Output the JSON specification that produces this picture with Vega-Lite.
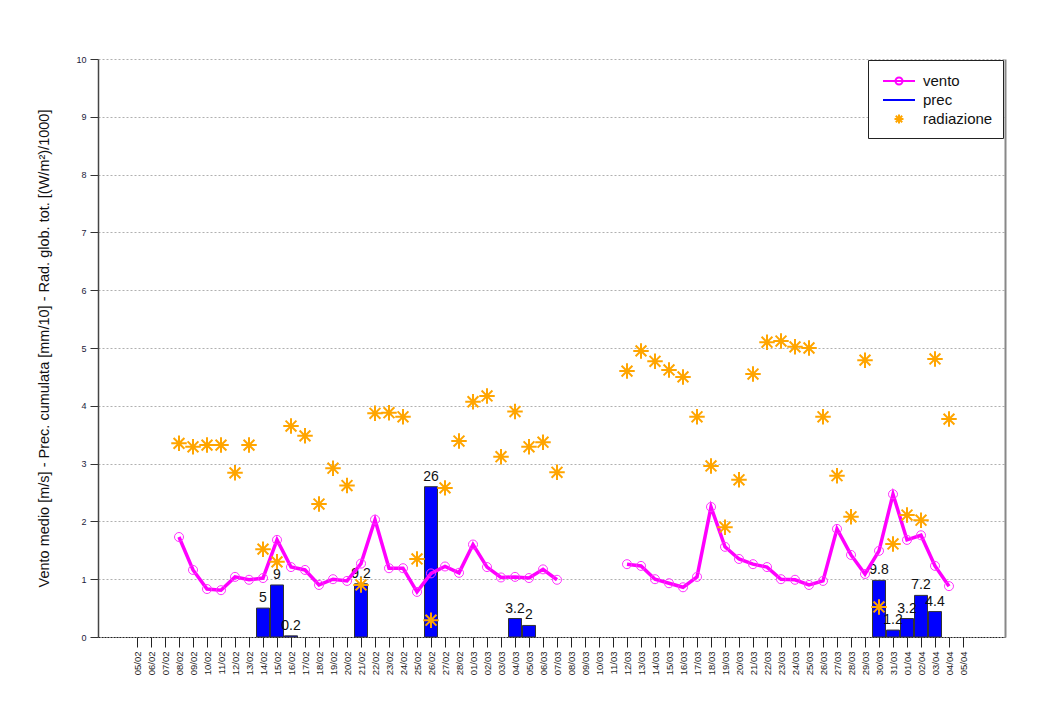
{
  "$schema": "https://vega.github.io/schema/vega-lite/v6.json",
  "width": 907,
  "height": 578,
  "autosize": {"type": "none"},
  "padding": {"left": 98, "top": 59, "right": 58, "bottom": 76},
  "background": "white",
  "config": {
    "view": {"stroke": null},
    "font": "Liberation Sans"
  },
  "data": {
    "values": [
      {"d": "2023-02-05", "vento": null, "rad": null, "prec": null, "lab": null},
      {"d": "2023-02-06", "vento": null, "rad": null, "prec": null, "lab": null},
      {"d": "2023-02-07", "vento": null, "rad": null, "prec": null, "lab": null},
      {"d": "2023-02-08", "vento": 1.73, "rad": 3.35, "prec": null, "lab": null},
      {"d": "2023-02-09", "vento": 1.16, "rad": 3.29, "prec": null, "lab": null},
      {"d": "2023-02-10", "vento": 0.83, "rad": 3.32, "prec": null, "lab": null},
      {"d": "2023-02-11", "vento": 0.81, "rad": 3.32, "prec": null, "lab": null},
      {"d": "2023-02-12", "vento": 1.04, "rad": 2.84, "prec": null, "lab": null},
      {"d": "2023-02-13", "vento": 0.99, "rad": 3.32, "prec": null, "lab": null},
      {"d": "2023-02-14", "vento": 1.02, "rad": 1.52, "prec": 0.5, "lab": "5"},
      {"d": "2023-02-15", "vento": 1.68, "rad": 1.30, "prec": 0.9, "lab": "9"},
      {"d": "2023-02-16", "vento": 1.21, "rad": 3.65, "prec": 0.02, "lab": "0.2"},
      {"d": "2023-02-17", "vento": 1.16, "rad": 3.48, "prec": null, "lab": null},
      {"d": "2023-02-18", "vento": 0.90, "rad": 2.30, "prec": null, "lab": null},
      {"d": "2023-02-19", "vento": 1.00, "rad": 2.92, "prec": null, "lab": null},
      {"d": "2023-02-20", "vento": 0.97, "rad": 2.62, "prec": null, "lab": null},
      {"d": "2023-02-21", "vento": 1.27, "rad": 0.90, "prec": 0.92, "lab": "9.2"},
      {"d": "2023-02-22", "vento": 2.03, "rad": 3.87, "prec": null, "lab": null},
      {"d": "2023-02-23", "vento": 1.19, "rad": 3.88, "prec": null, "lab": null},
      {"d": "2023-02-24", "vento": 1.19, "rad": 3.81, "prec": null, "lab": null},
      {"d": "2023-02-25", "vento": 0.78, "rad": 1.35, "prec": null, "lab": null},
      {"d": "2023-02-26", "vento": 1.10, "rad": 0.29, "prec": 2.6, "lab": "26"},
      {"d": "2023-02-27", "vento": 1.22, "rad": 2.58, "prec": null, "lab": null},
      {"d": "2023-02-28", "vento": 1.11, "rad": 3.39, "prec": null, "lab": null},
      {"d": "2023-03-01", "vento": 1.60, "rad": 4.07, "prec": null, "lab": null},
      {"d": "2023-03-02", "vento": 1.21, "rad": 4.17, "prec": null, "lab": null},
      {"d": "2023-03-03", "vento": 1.03, "rad": 3.12, "prec": null, "lab": null},
      {"d": "2023-03-04", "vento": 1.04, "rad": 3.90, "prec": 0.32, "lab": "3.2"},
      {"d": "2023-03-05", "vento": 1.02, "rad": 3.29, "prec": 0.2, "lab": "2"},
      {"d": "2023-03-06", "vento": 1.17, "rad": 3.37, "prec": null, "lab": null},
      {"d": "2023-03-07", "vento": 0.99, "rad": 2.85, "prec": null, "lab": null},
      {"d": "2023-03-08", "vento": null, "rad": null, "prec": null, "lab": null},
      {"d": "2023-03-09", "vento": null, "rad": null, "prec": null, "lab": null},
      {"d": "2023-03-10", "vento": null, "rad": null, "prec": null, "lab": null},
      {"d": "2023-03-11", "vento": null, "rad": null, "prec": null, "lab": null},
      {"d": "2023-03-12", "vento": 1.26, "rad": 4.60, "prec": null, "lab": null},
      {"d": "2023-03-13", "vento": 1.23, "rad": 4.95, "prec": null, "lab": null},
      {"d": "2023-03-14", "vento": 1.00, "rad": 4.77, "prec": null, "lab": null},
      {"d": "2023-03-15", "vento": 0.93, "rad": 4.62, "prec": null, "lab": null},
      {"d": "2023-03-16", "vento": 0.86, "rad": 4.50, "prec": null, "lab": null},
      {"d": "2023-03-17", "vento": 1.04, "rad": 3.81, "prec": null, "lab": null},
      {"d": "2023-03-18", "vento": 2.25, "rad": 2.96, "prec": null, "lab": null},
      {"d": "2023-03-19", "vento": 1.56, "rad": 1.90, "prec": null, "lab": null},
      {"d": "2023-03-20", "vento": 1.35, "rad": 2.72, "prec": null, "lab": null},
      {"d": "2023-03-21", "vento": 1.26, "rad": 4.55, "prec": null, "lab": null},
      {"d": "2023-03-22", "vento": 1.21, "rad": 5.10, "prec": null, "lab": null},
      {"d": "2023-03-23", "vento": 1.00, "rad": 5.12, "prec": null, "lab": null},
      {"d": "2023-03-24", "vento": 0.99, "rad": 5.02, "prec": null, "lab": null},
      {"d": "2023-03-25", "vento": 0.90, "rad": 5.00, "prec": null, "lab": null},
      {"d": "2023-03-26", "vento": 0.97, "rad": 3.81, "prec": null, "lab": null},
      {"d": "2023-03-27", "vento": 1.87, "rad": 2.79, "prec": null, "lab": null},
      {"d": "2023-03-28", "vento": 1.42, "rad": 2.08, "prec": null, "lab": null},
      {"d": "2023-03-29", "vento": 1.09, "rad": 4.79, "prec": null, "lab": null},
      {"d": "2023-03-30", "vento": 1.49, "rad": 0.52, "prec": 0.98, "lab": "9.8"},
      {"d": "2023-03-31", "vento": 2.47, "rad": 1.61, "prec": 0.12, "lab": "1.2"},
      {"d": "2023-04-01", "vento": 1.68, "rad": 2.11, "prec": 0.32, "lab": "3.2"},
      {"d": "2023-04-02", "vento": 1.76, "rad": 2.02, "prec": 0.72, "lab": "7.2"},
      {"d": "2023-04-03", "vento": 1.23, "rad": 4.81, "prec": 0.44, "lab": "4.4"},
      {"d": "2023-04-04", "vento": 0.88, "rad": 3.77, "prec": null, "lab": null},
      {"d": "2023-04-05", "vento": null, "rad": null, "prec": null, "lab": null}
    ]
  },
  "encoding": {
    "x": {
      "field": "d",
      "type": "temporal",
      "scale": {
        "type": "utc",
        "domain": [
          {"year": 2023, "month": 2, "date": 2, "hours": 5, "minutes": 8, "utc": true},
          {"year": 2023, "month": 4, "date": 8, "utc": true}
        ],
        "nice": false,
        "padding": 0
      },
      "axis": {
        "title": null,
        "format": "%d/%m",
        "values": [
          {"year": 2023, "month": 2, "date": 5, "utc": true},
          {"year": 2023, "month": 2, "date": 6, "utc": true},
          {"year": 2023, "month": 2, "date": 7, "utc": true},
          {"year": 2023, "month": 2, "date": 8, "utc": true},
          {"year": 2023, "month": 2, "date": 9, "utc": true},
          {"year": 2023, "month": 2, "date": 10, "utc": true},
          {"year": 2023, "month": 2, "date": 11, "utc": true},
          {"year": 2023, "month": 2, "date": 12, "utc": true},
          {"year": 2023, "month": 2, "date": 13, "utc": true},
          {"year": 2023, "month": 2, "date": 14, "utc": true},
          {"year": 2023, "month": 2, "date": 15, "utc": true},
          {"year": 2023, "month": 2, "date": 16, "utc": true},
          {"year": 2023, "month": 2, "date": 17, "utc": true},
          {"year": 2023, "month": 2, "date": 18, "utc": true},
          {"year": 2023, "month": 2, "date": 19, "utc": true},
          {"year": 2023, "month": 2, "date": 20, "utc": true},
          {"year": 2023, "month": 2, "date": 21, "utc": true},
          {"year": 2023, "month": 2, "date": 22, "utc": true},
          {"year": 2023, "month": 2, "date": 23, "utc": true},
          {"year": 2023, "month": 2, "date": 24, "utc": true},
          {"year": 2023, "month": 2, "date": 25, "utc": true},
          {"year": 2023, "month": 2, "date": 26, "utc": true},
          {"year": 2023, "month": 2, "date": 27, "utc": true},
          {"year": 2023, "month": 2, "date": 28, "utc": true},
          {"year": 2023, "month": 3, "date": 1, "utc": true},
          {"year": 2023, "month": 3, "date": 2, "utc": true},
          {"year": 2023, "month": 3, "date": 3, "utc": true},
          {"year": 2023, "month": 3, "date": 4, "utc": true},
          {"year": 2023, "month": 3, "date": 5, "utc": true},
          {"year": 2023, "month": 3, "date": 6, "utc": true},
          {"year": 2023, "month": 3, "date": 7, "utc": true},
          {"year": 2023, "month": 3, "date": 8, "utc": true},
          {"year": 2023, "month": 3, "date": 9, "utc": true},
          {"year": 2023, "month": 3, "date": 10, "utc": true},
          {"year": 2023, "month": 3, "date": 11, "utc": true},
          {"year": 2023, "month": 3, "date": 12, "utc": true},
          {"year": 2023, "month": 3, "date": 13, "utc": true},
          {"year": 2023, "month": 3, "date": 14, "utc": true},
          {"year": 2023, "month": 3, "date": 15, "utc": true},
          {"year": 2023, "month": 3, "date": 16, "utc": true},
          {"year": 2023, "month": 3, "date": 17, "utc": true},
          {"year": 2023, "month": 3, "date": 18, "utc": true},
          {"year": 2023, "month": 3, "date": 19, "utc": true},
          {"year": 2023, "month": 3, "date": 20, "utc": true},
          {"year": 2023, "month": 3, "date": 21, "utc": true},
          {"year": 2023, "month": 3, "date": 22, "utc": true},
          {"year": 2023, "month": 3, "date": 23, "utc": true},
          {"year": 2023, "month": 3, "date": 24, "utc": true},
          {"year": 2023, "month": 3, "date": 25, "utc": true},
          {"year": 2023, "month": 3, "date": 26, "utc": true},
          {"year": 2023, "month": 3, "date": 27, "utc": true},
          {"year": 2023, "month": 3, "date": 28, "utc": true},
          {"year": 2023, "month": 3, "date": 29, "utc": true},
          {"year": 2023, "month": 3, "date": 30, "utc": true},
          {"year": 2023, "month": 3, "date": 31, "utc": true},
          {"year": 2023, "month": 4, "date": 1, "utc": true},
          {"year": 2023, "month": 4, "date": 2, "utc": true},
          {"year": 2023, "month": 4, "date": 3, "utc": true},
          {"year": 2023, "month": 4, "date": 4, "utc": true},
          {"year": 2023, "month": 4, "date": 5, "utc": true}
        ],
        "labelAngle": 270,
        "labelFontSize": 9.5,
        "labelColor": "#222",
        "labelPadding": 4,
        "labelOverlap": false,
        "labelFlush": false,
        "tickSize": 10,
        "tickColor": "#222",
        "domainColor": "#222",
        "domainDash": [2, 1],
        "domainWidth": 1,
        "grid": false
      }
    }
  },
  "layer": [
    {
      "mark": {"type": "bar", "width": 13, "fill": "#0000FF", "stroke": "#333333", "strokeWidth": 1},
      "encoding": {
        "y": {
          "field": "prec",
          "type": "quantitative",
          "scale": {"domain": [0, 10], "nice": false},
          "axis": {
            "title": "Vento medio [m/s] - Prec. cumulata [mm/10] - Rad. glob. tot. [(W/m²)/1000]",
            "titleFontSize": 14.5,
            "titleFontWeight": "normal",
            "titleColor": "#111",
            "titlePadding": 24,
            "values": [0, 1, 2, 3, 4, 5, 6, 7, 8, 9, 10],
            "labelFontSize": 9,
            "labelColor": "#1a1a3a",
            "labelPadding": 4,
            "tickSize": 8,
            "tickColor": "#333",
            "domainColor": "#444",
            "domainWidth": 1.5,
            "grid": true,
            "gridDash": [2, 2],
            "gridColor": "#b0b0b0",
            "gridWidth": 1
          }
        }
      }
    },
    {
      "mark": {"type": "text", "baseline": "bottom", "dy": -3, "fontSize": 14, "color": "#111"},
      "encoding": {
        "y": {"field": "prec", "type": "quantitative", "axis": null},
        "text": {"field": "lab"}
      }
    },
    {
      "mark": {"type": "line", "color": "#FF00FF", "strokeWidth": 3.5, "invalid": "break-paths-show-domains"},
      "encoding": {
        "y": {
          "field": "vento",
          "type": "quantitative",
          "axis": {
            "orient": "right",
            "title": null,
            "labels": false,
            "ticks": false,
            "grid": false,
            "domainColor": "#888",
            "domainWidth": 2
          }
        }
      }
    },
    {
      "mark": {"type": "point", "shape": "circle", "filled": false, "stroke": "#FF33FF", "strokeWidth": 1, "size": 81, "opacity": 1},
      "encoding": {
        "y": {"field": "vento", "type": "quantitative", "axis": null}
      }
    },
    {
      "mark": {
        "type": "point",
        "shape": "M-1,0L1,0M0,-1L0,1M-0.7,-0.7L0.7,0.7M-0.7,0.7L0.7,-0.7",
        "filled": false,
        "stroke": "#FFA500",
        "strokeWidth": 2,
        "size": 240,
        "opacity": 1
      },
      "encoding": {
        "y": {"field": "rad", "type": "quantitative", "axis": null}
      }
    },
    {
      "data": {"values": [{"serie": "vento"}, {"serie": "prec"}, {"serie": "radiazione"}]},
      "mark": {"type": "point", "filled": false, "opacity": 0, "strokeWidth": 2},
      "encoding": {
        "x": null,
        "color": {
          "field": "serie",
          "type": "nominal",
          "sort": null,
          "scale": {"domain": ["vento", "prec", "radiazione"], "range": ["#FF00FF", "#0000FF", "#FFA500"]},
          "legend": {
            "title": null,
            "orient": "none",
            "legendX": 770,
            "legendY": 1,
            "padding": 10,
            "strokeColor": "#222",
            "fillColor": "white",
            "labelFontSize": 15,
            "labelColor": "#111",
            "symbolSize": 400,
            "symbolOpacity": 1,
            "symbolStrokeWidth": 2,
            "symbolFillColor": "transparent",
            "labelOffset": 23,
            "rowPadding": 0
          }
        },
        "shape": {
          "field": "serie",
          "type": "nominal",
          "sort": null,
          "scale": {
            "domain": ["vento", "prec", "radiazione"],
            "range": [
              "M-0.6,0L2.6,0M1.35,0A0.35,0.35 0 1,1 0.65,0A0.35,0.35 0 1,1 1.35,0",
              "M-0.6,0L2.6,0",
              "M0.55,0L1.45,0M1,-0.45L1,0.45M0.68,-0.32L1.32,0.32M0.68,0.32L1.32,-0.32"
            ]
          }
        }
      }
    }
  ],
  "resolve": {"axis": {"y": "independent"}}
}
